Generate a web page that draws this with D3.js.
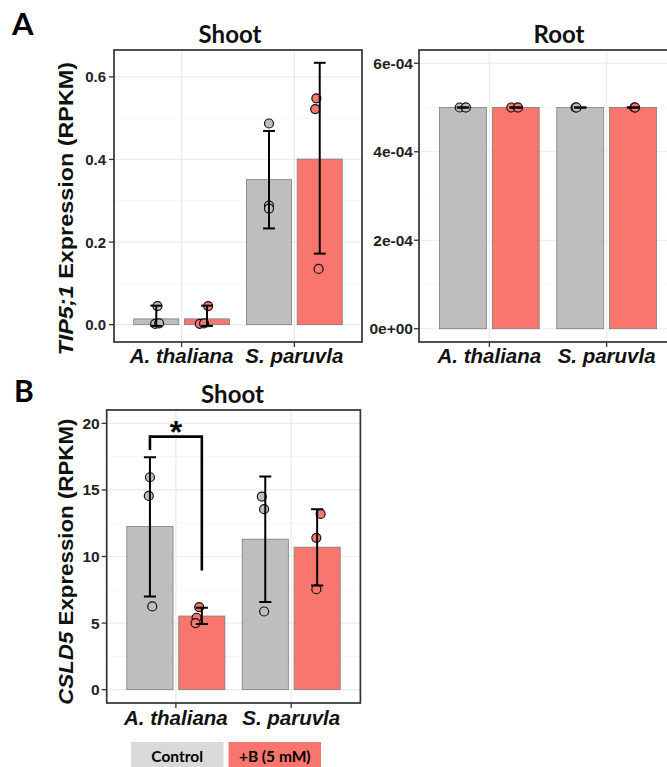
<!DOCTYPE html>
<html><head><meta charset="utf-8">
<script src="https://cdn.jsdelivr.net/npm/d3@7/dist/d3.min.js"></script>
<style>body{margin:0;background:#fff}svg{display:block}</style>
</head><body>
<svg id="c" width="667" height="767"></svg>
<script>
// ---------- DATA ----------
const categories = ["A. thaliana", "S. paruvla"];
const treatments = ["Control", "+B (5 mM)"];

// Panel A – Shoot (TIP5;1, RPKM)
const tipShootCtrlMean = [0.014, 0.351];
const tipShootBorMean  = [0.014, 0.401];
const tipShootCtrlLow  = [-0.003, 0.233];
const tipShootBorLow   = [-0.003, 0.172];
const tipShootCtrlHigh = [0.046, 0.469];
const tipShootBorHigh  = [0.046, 0.634];
const tipShootCtrlPts  = [[0.045, 0.002, 0.003], [0.487, 0.288, 0.281]];
const tipShootBorPts   = [[0.045, 0.002, 0.003], [0.548, 0.522, 0.135]];
const tipShootCtrlJit  = [[0.01, -0.01, 0.025], [0, 0, 0]];
const tipShootBorJit   = [[0.01, -0.064, -0.026], [-0.03, -0.04, -0.01]];
const tipShootTicks    = [0, 0.2, 0.4, 0.6];

// Panel A – Root (TIP5;1, RPKM)
const tipRootCtrlMean = [5e-4, 5e-4];
const tipRootBorMean  = [5e-4, 5e-4];
const tipRootCtrlPts  = [[5e-4, 5e-4, 5e-4], [5e-4, 5e-4, 5e-4]];
const tipRootBorPts   = [[5e-4, 5e-4, 5e-4], [5e-4, 5e-4, 5e-4]];
const tipRootCtrlJit  = [[-0.028, 0.022, 0.026], [-0.04, -0.036, -0.032]];
const tipRootBorJit   = [[-0.038, 0.016, 0.02], [0.012, 0.015, 0.018]];
const tipRootTicks    = [0, 2e-4, 4e-4, 6e-4];

// Panel B – Shoot (CSLD5, RPKM)
const csldCtrlMean = [12.25, 11.3];
const csldBorMean  = [5.53, 10.7];
const csldCtrlLow  = [7.0, 6.58];
const csldBorLow   = [4.93, 7.82];
const csldCtrlHigh = [17.45, 16.0];
const csldBorHigh  = [6.15, 13.55];
const csldCtrlPts  = [[15.95, 14.55, 6.25], [14.5, 13.55, 5.87]];
const csldBorPts   = [[6.2, 5.4, 5.0], [13.2, 11.4, 7.55]];
const csldCtrlJit  = [[0, -0.01, 0.02], [-0.03, -0.01, -0.01]];
const csldBorJit   = [[-0.023, -0.046, -0.055], [0.03, -0.007, -0.007]];
const csldTicks    = [0, 5, 10, 15, 20];
const sigBracket   = [18.0, 19.0, 8.95]; // left leg end, top, right leg end
const sigLabel     = "*";

// ---------- STYLE ----------
const fillColors = ["#bebebe", "#f8766d"];
const legendColors = ["#d9d9d9", "#f8766d"];
const AX = "'Liberation Sans', Arial, Helvetica, sans-serif";
const TT = "Lato, 'Open Sans', sans-serif";

const svg = d3.select("#c");

function sciFmt(v) {
  const [m, e] = v.toExponential(0).split("e");
  return m + "e" + e[0] + e.slice(1).padStart(2, "0");
}

function drawPanel(p) {
  const g = svg.append("g");
  const x = d3.scalePoint().domain(categories).range([p.left, p.right]).padding(0.6);
  const step = x.step();
  const dodge = d3.scaleBand().domain(treatments)
    .range([-0.475 * step, 0.475 * step]).padding(0.05 / 0.45);
  const y = d3.scaleLinear().domain(p.yDomain).range([p.bottom, p.top]);

  const cid = "clip" + p.id;
  svg.append("clipPath").attr("id", cid).append("rect")
    .attr("x", p.left).attr("y", p.top)
    .attr("width", p.right - p.left).attr("height", p.bottom - p.top);
  const inner = g.append("g").attr("clip-path", `url(#${cid})`);

  const ticks = p.ticks;
  const tstep = ticks[1] - ticks[0];
  const minor = [];
  for (let i = -1; i < ticks.length; i++) minor.push(ticks[0] + (i + 0.5) * tstep);

  inner.selectAll("line.mn").data(minor).join("line").attr("class", "mn")
    .attr("x1", p.left).attr("x2", p.right)
    .attr("y1", d => y(d)).attr("y2", d => y(d))
    .attr("stroke", "#f4f4f4").attr("stroke-width", 0.8);
  inner.selectAll("line.mj").data(ticks).join("line").attr("class", "mj")
    .attr("x1", p.left).attr("x2", p.right)
    .attr("y1", d => y(d)).attr("y2", d => y(d))
    .attr("stroke", "#ebebeb").attr("stroke-width", 1.2);
  inner.selectAll("line.vx").data(categories).join("line").attr("class", "vx")
    .attr("x1", d => x(d)).attr("x2", d => x(d))
    .attr("y1", p.top).attr("y2", p.bottom)
    .attr("stroke", "#ebebeb").attr("stroke-width", 1.2);

  // bars
  p.series.forEach((s, ti) => {
    const t = treatments[ti];
    inner.append("g").selectAll("rect").data(categories).join("rect")
      .attr("x", c => x(c) + dodge(t))
      .attr("width", dodge.bandwidth())
      .attr("y", (c, i) => y(s.mean[i]))
      .attr("height", (c, i) => y(0) - y(s.mean[i]))
      .attr("fill", fillColors[ti])
      .attr("stroke", "#7d7d7d").attr("stroke-width", 0.8);
  });

  // points
  p.series.forEach((s, ti) => {
    const t = treatments[ti];
    const pts = [];
    categories.forEach((c, ci) => s.pts[ci].forEach((v, k) => pts.push({ c, v, j: s.jit[ci][k] })));
    inner.append("g").selectAll("circle").data(pts).join("circle")
      .attr("cx", d => x(d.c) + dodge(t) + dodge.bandwidth() / 2 + d.j * step)
      .attr("cy", d => y(d.v))
      .attr("r", 4.5)
      .attr("fill", fillColors[ti])
      .attr("stroke", "#111").attr("stroke-width", 1.2);
  });

  // error bars
  const capW = 0.105 * step;
  p.series.forEach((s, ti) => {
    const t = treatments[ti];
    const eg = inner.append("g").attr("stroke", "#000").attr("stroke-width", 2);
    categories.forEach((c, ci) => {
      const cx = x(c) + dodge(t) + dodge.bandwidth() / 2;
      const lo = s.low ? s.low[ci] : s.mean[ci];
      const hi = s.high ? s.high[ci] : s.mean[ci];
      eg.append("line").attr("x1", cx).attr("x2", cx).attr("y1", y(lo)).attr("y2", y(hi));
      eg.append("line").attr("x1", cx - capW / 2).attr("x2", cx + capW / 2).attr("y1", y(lo)).attr("y2", y(lo));
      eg.append("line").attr("x1", cx - capW / 2).attr("x2", cx + capW / 2).attr("y1", y(hi)).attr("y2", y(hi));
    });
  });

  // border
  g.append("rect").attr("x", p.left).attr("y", p.top)
    .attr("width", p.right - p.left).attr("height", p.bottom - p.top)
    .attr("fill", "none").attr("stroke", "#333").attr("stroke-width", 1.7);

  // y axis
  const ya = g.append("g");
  ya.selectAll("line").data(ticks).join("line")
    .attr("x1", p.left - 5).attr("x2", p.left)
    .attr("y1", d => y(d)).attr("y2", d => y(d))
    .attr("stroke", "#333").attr("stroke-width", 1.3);
  ya.selectAll("text").data(ticks).join("text")
    .attr("x", p.left - p.labGap).attr("y", d => y(d))
    .attr("text-anchor", "end").attr("dominant-baseline", "central")
    .attr("font-family", AX).attr("font-weight", "bold")
    .attr("font-size", p.tickSize).attr("fill", "#222")
    .text(p.fmt);

  // x axis
  const xa = g.append("g");
  xa.selectAll("line").data(categories).join("line")
    .attr("x1", d => x(d)).attr("x2", d => x(d))
    .attr("y1", p.bottom).attr("y2", p.bottom + 5)
    .attr("stroke", "#333").attr("stroke-width", 1.3);
  xa.selectAll("text").data(categories).join("text")
    .attr("x", d => x(d)).attr("y", p.xLabY)
    .attr("text-anchor", "middle")
    .attr("font-family", AX).attr("font-weight", "bold").attr("font-style", "italic")
    .attr("font-size", 20.5).attr("fill", "#111")
    .text(d => d);

  // title
  g.append("text").attr("x", p.titleX).attr("y", p.titleY)
    .attr("text-anchor", "middle").attr("font-family", TT).attr("font-weight", "bold")
    .attr("font-size", 24).attr("fill", "#111").text(p.title);

  // y label
  if (p.ylab) {
    const t = g.append("text")
      .attr("transform", `translate(${p.ylab.x},${p.ylab.y}) rotate(-90) scale(${p.ylab.sx},1)`)
      .attr("text-anchor", "middle")
      .attr("font-family", AX).attr("font-weight", "bold").attr("font-size", 20).attr("fill", "#111");
    t.append("tspan").attr("font-style", "italic").text(p.ylab.gene);
    t.append("tspan").text(" Expression (RPKM)");
  }
  return { x, y, dodge, step };
}

// Panel A shoot
drawPanel({
  id: "as", left: 114, right: 362, top: 50, bottom: 342,
  yDomain: [-0.042, 0.665], ticks: tipShootTicks, fmt: d3.format(".1f"),
  tickSize: 15, labGap: 8,
  series: [
    { mean: tipShootCtrlMean, low: tipShootCtrlLow, high: tipShootCtrlHigh, pts: tipShootCtrlPts, jit: tipShootCtrlJit },
    { mean: tipShootBorMean, low: tipShootBorLow, high: tipShootBorHigh, pts: tipShootBorPts, jit: tipShootBorJit }
  ],
  xLabY: 363, title: "Shoot", titleX: 230, titleY: 43,
  ylab: { x: 72.5, y: 208.7, sx: 1.17, gene: "TIP5;1" }
});

// Panel A root
drawPanel({
  id: "ar", left: 419, right: 677, top: 50, bottom: 342,
  yDomain: [-3.0e-5, 6.3e-4], ticks: tipRootTicks, fmt: sciFmt,
  tickSize: 15.5, labGap: 6,
  series: [
    { mean: tipRootCtrlMean, pts: tipRootCtrlPts, jit: tipRootCtrlJit },
    { mean: tipRootBorMean, pts: tipRootBorPts, jit: tipRootBorJit }
  ],
  xLabY: 363, title: "Root", titleX: 559, titleY: 43
});

// Panel B shoot
const pb = drawPanel({
  id: "bs", left: 106.7, right: 360.4, top: 410, bottom: 703,
  yDomain: [-1, 21], ticks: csldTicks, fmt: d3.format("d"),
  tickSize: 15.5, labGap: 7,
  series: [
    { mean: csldCtrlMean, low: csldCtrlLow, high: csldCtrlHigh, pts: csldCtrlPts, jit: csldCtrlJit },
    { mean: csldBorMean, low: csldBorLow, high: csldBorHigh, pts: csldBorPts, jit: csldBorJit }
  ],
  xLabY: 725, title: "Shoot", titleX: 232.5, titleY: 403,
  ylab: { x: 73, y: 561.7, sx: 1.115, gene: "CSLD5" }
});

// significance bracket (panel B, A. thaliana control vs +B)
{
  const c = categories[0];
  const xl = pb.x(c) + pb.dodge(treatments[0]) + pb.dodge.bandwidth() / 2;
  const xr = pb.x(c) + pb.dodge(treatments[1]) + pb.dodge.bandwidth() / 2;
  const line = d3.line();
  svg.append("path")
    .attr("d", line([[xl, pb.y(sigBracket[0])], [xl, pb.y(sigBracket[1])], [xr, pb.y(sigBracket[1])], [xr, pb.y(sigBracket[2])]]))
    .attr("fill", "none").attr("stroke", "#000").attr("stroke-width", 2.6);
  svg.append("text").attr("x", (xl + xr) / 2).attr("y", pb.y(sigBracket[1]) + 6)
    .attr("text-anchor", "middle").attr("font-family", AX).attr("font-weight", "bold")
    .attr("font-size", 32).attr("fill", "#000").text(sigLabel);
}

// panel letters
svg.append("text").attr("x", 12).attr("y", 35).attr("font-family", TT).attr("font-weight", "bold")
  .attr("font-size", 31).attr("fill", "#000").text("A");
svg.append("text").attr("x", 14).attr("y", 402).attr("font-family", TT).attr("font-weight", "bold")
  .attr("font-size", 30).attr("fill", "#000").text("B");

// legend
const legX = d3.scaleBand().domain(treatments).range([131, 321]).paddingInner(0.052);
const lg = svg.append("g");
lg.selectAll("rect").data(treatments).join("rect")
  .attr("x", d => legX(d)).attr("y", 742).attr("width", legX.bandwidth()).attr("height", 30)
  .attr("fill", (d, i) => legendColors[i]);
lg.selectAll("text").data(treatments).join("text")
  .attr("x", d => legX(d) + legX.bandwidth() / 2).attr("y", 762)
  .attr("text-anchor", "middle").attr("font-family", TT).attr("font-weight", "bold")
  .attr("font-size", 15.5).attr("fill", "#000").text(d => d);
</script>
</body></html>
